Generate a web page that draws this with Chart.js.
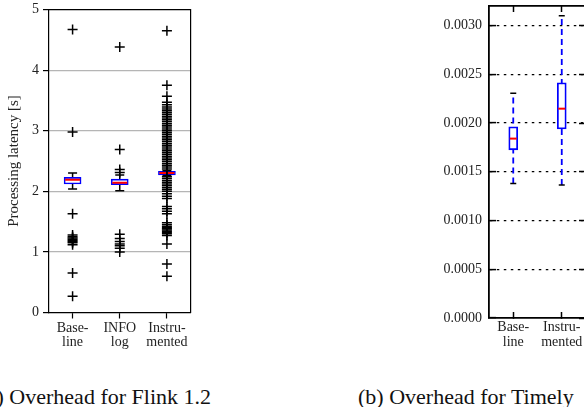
<!DOCTYPE html>
<html>
<head>
<meta charset="utf-8">
<script src="https://cdn.jsdelivr.net/npm/chart.js@4.4.1/dist/chart.umd.min.js"></script>
<style>
    html, body { margin: 0; padding: 0; background: #fff; overflow: hidden; width: 584px; height: 407px; }
    #flinkWrap { position: absolute; left: 0; top: 0; width: 200px; height: 360px; }
    #timelyWrap { position: absolute; left: 380px; top: 0; width: 215px; height: 360px; }
    .caption { position: absolute; top: 385px; line-height: 24px; font-family: 'Liberation Serif', 'Times New Roman', serif; font-size: 22px; color: #111; white-space: nowrap; }
    #capA { right: 373px; }
    #capB { left: 358px; }
</style>
</head>
<body>
<div id="flinkWrap"><canvas id="flinkChart"></canvas></div>
<div id="timelyWrap"><canvas id="timelyChart"></canvas></div>
<div class="caption" id="capA">(a) Overhead for Flink 1.2</div>
<div class="caption" id="capB">(b) Overhead for Timely</div>
<script>
// (a) Flink 1.2 - processing latency in seconds
var flinkCategories = ['Baseline', 'INFO log', 'Instrumented'];
var flinkTickLabels = [['Base-', 'line'], ['INFO', 'log'], ['Instru-', 'mented']];
var flinkQ1 = [2.12, 2.11, 2.27];
var flinkMedian = [2.19, 2.14, 2.30];
var flinkQ3 = [2.23, 2.20, 2.33];
var flinkWhiskerLow = [2.04, 2.01, 2.26];
var flinkWhiskerHigh = [2.30, 2.27, 2.34];
var flinkOutliersBaseline = [4.67, 2.98, 1.63, 1.28, 1.25, 1.23, 1.21, 1.19, 1.17, 1.15, 1.12, 0.65, 0.27];
var flinkOutliersInfo = [4.38, 2.69, 2.36, 2.31, 1.29, 1.22, 1.17, 1.13, 1.10, 1.06, 1.00];
var flinkOutliersInstrumented = [4.65, 3.75, 3.57, 3.47, 3.43, 3.39, 3.36, 3.33, 3.30, 3.27, 3.24, 3.21,
    3.18, 3.15, 3.12, 3.09, 3.06, 3.03, 3.00, 2.97, 2.94, 2.91, 2.88, 2.85, 2.82, 2.79, 2.76, 2.73,
    2.70, 2.67, 2.64, 2.61, 2.58, 2.55, 2.52, 2.49, 2.46, 2.43, 2.40, 2.37, 2.24, 2.21, 2.18, 2.15,
    2.12, 2.09, 2.06, 2.03, 2.00, 1.96, 1.92, 1.88, 1.75, 1.71, 1.67, 1.63, 1.48, 1.45, 1.42, 1.40,
    1.38, 1.36, 1.34, 1.32, 1.30, 1.27, 1.13, 0.80, 0.60];

// (b) Timely - processing latency in seconds
var timelyCategories = ['Baseline', 'Instrumented'];
var timelyTickLabels = [['Base-', 'line'], ['Instru-', 'mented']];
var timelyQ1 = [0.001725, 0.00194];
var timelyMedian = [0.00184, 0.002147];
var timelyQ3 = [0.00196, 0.002413];
var timelyWhiskerLow = [0.00138, 0.001364];
var timelyWhiskerHigh = [0.002305, 0.0031];

Chart.defaults.font.family = "'Liberation Serif', 'Times New Roman', serif";
Chart.defaults.color = '#222';

function buildBoxDatasets(categories, q1, median, q3, low, high, outliers, look) {
    var datasets = [];
    var i;

    datasets.push({
        type: 'bar',
        data: q1.map(function (v, k) { return [v, q3[k]]; }),
        backgroundColor: '#ffffff',
        borderColor: '#0000ff',
        borderWidth: look.boxLine,
        borderSkipped: false,
        barThickness: look.boxWidth,
        order: 3
    });

    for (i = 0; i < categories.length; i++) {
        datasets.push({
            type: 'line',
            data: [{ x: categories[i], y: low[i] }, { x: categories[i], y: high[i] }],
            borderColor: look.whiskerColor,
            borderWidth: look.whiskerLine,
            borderDash: look.whiskerDash,
            pointRadius: 0,
            fill: false,
            order: 4
        });
    }

    var caps = [];
    var medians = [];
    for (i = 0; i < categories.length; i++) {
        caps.push({ x: categories[i], y: low[i] });
        caps.push({ x: categories[i], y: high[i] });
        medians.push({ x: categories[i], y: median[i] });
    }
    datasets.push({
        type: 'scatter',
        data: caps,
        pointStyle: 'line',
        pointRadius: look.capRadius,
        pointBorderColor: '#000000',
        pointBorderWidth: look.capLine,
        order: 2
    });
    datasets.push({
        type: 'scatter',
        data: medians,
        pointStyle: 'line',
        pointRadius: look.boxWidth / 2 - 1,
        pointBorderColor: '#ff0000',
        pointBorderWidth: 2,
        order: 2
    });

    if (outliers) {
        var fliers = [];
        for (i = 0; i < categories.length; i++) {
            outliers[i].forEach(function (v) { fliers.push({ x: categories[i], y: v }); });
        }
        datasets.push({
            type: 'scatter',
            data: fliers,
            pointStyle: 'cross',
            pointRadius: 5,
            pointBorderColor: '#000000',
            pointBorderWidth: 1.5,
            order: 1
        });
    }
    return datasets;
}

// pin an axis box to a fixed size and drop the label overflow padding
function fixedSize(prop, value) {
    return function (scale) {
        scale[prop] = value;
        scale.paddingTop = 0;
        scale.paddingBottom = 0;
        scale.paddingLeft = 0;
        scale.paddingRight = 0;
    };
}

new Chart(document.getElementById('flinkChart'), {
    type: 'bar',
    data: {
        labels: flinkCategories,
        datasets: buildBoxDatasets(flinkCategories, flinkQ1, flinkMedian, flinkQ3,
            flinkWhiskerLow, flinkWhiskerHigh,
            [flinkOutliersBaseline, flinkOutliersInfo, flinkOutliersInstrumented],
            { boxLine: 1.6, boxWidth: 17, whiskerColor: '#000000', whiskerLine: 1.5, whiskerDash: [], capRadius: 4.5, capLine: 1.5 })
    },
    options: {
        responsive: true,
        maintainAspectRatio: false,
        animation: false,
        events: [],
        layout: { padding: { top: 8, right: 5, bottom: 0, left: 0 } },
        plugins: { legend: { display: false }, tooltip: { enabled: false } },
        scales: {
            x: {
                type: 'category',
                position: 'bottom',
                offset: true,
                grid: { offset: false, drawOnChartArea: false, tickLength: 6, tickColor: '#000', tickWidth: 1.2 },
                border: { color: '#000', width: 1.2 },
                ticks: {
                    padding: 2, autoSkip: false, maxRotation: 0, color: '#222',
                    font: { size: 14, lineHeight: 1.05 },
                    callback: function (value, index) { return flinkTickLabels[index]; }
                },
                afterFit: fixedSize('height', 47.5)
            },
            x2: {
                type: 'category',
                position: 'top',
                offset: true,
                grid: { display: false },
                border: { color: '#000', width: 1.2 },
                ticks: { display: false },
                afterFit: fixedSize('height', 0)
            },
            y: {
                min: 0,
                max: 5,
                grid: {
                    color: function (ctx) {
                        var v = ctx.tick ? ctx.tick.value : 0;
                        return (v === 0 || v === 5) ? 'rgba(0,0,0,0)' : '#b5b5b5';
                    },
                    lineWidth: 1.2, tickLength: 6, tickColor: '#000', tickWidth: 1.2
                },
                border: { color: '#000', width: 1.2 },
                ticks: { stepSize: 1, padding: 4, color: '#222', font: { size: 14 } },
                title: { display: true, text: 'Processing latency [s]', color: '#222', font: { size: 15 }, padding: { top: 5, bottom: 0 } },
                afterFit: fixedSize('width', 49)
            },
            y2: {
                position: 'right',
                min: 0,
                max: 5,
                grid: { display: false },
                border: { color: '#000', width: 1.2 },
                ticks: { display: false },
                afterFit: fixedSize('width', 0)
            }
        }
    }
});

new Chart(document.getElementById('timelyChart'), {
    type: 'bar',
    data: {
        labels: timelyCategories,
        datasets: buildBoxDatasets(timelyCategories, timelyQ1, timelyMedian, timelyQ3,
            timelyWhiskerLow, timelyWhiskerHigh, null,
            { boxLine: 1.8, boxWidth: 9, whiskerColor: '#0000ff', whiskerLine: 1.8, whiskerDash: [6, 4], capRadius: 3, capLine: 1.6 })
    },
    options: {
        responsive: true,
        maintainAspectRatio: false,
        animation: false,
        events: [],
        layout: { padding: { top: 5, right: 9, bottom: 0, left: 0 } },
        plugins: { legend: { display: false }, tooltip: { enabled: false } },
        scales: {
            x: {
                type: 'category',
                position: 'bottom',
                offset: true,
                grid: { offset: false, drawOnChartArea: false, tickLength: -6, tickColor: '#000', tickWidth: 1.5 },
                border: { color: '#000', width: 1.8 },
                ticks: {
                    padding: 8, autoSkip: false, maxRotation: 0, color: '#222',
                    font: { size: 14, lineHeight: 1.05 },
                    callback: function (value, index) { return timelyTickLabels[index]; }
                },
                afterFit: fixedSize('height', 42)
            },
            x2: {
                type: 'category',
                position: 'top',
                offset: true,
                grid: { offset: false, drawOnChartArea: false, tickLength: -6, tickColor: '#000', tickWidth: 1.5 },
                border: { color: '#000', width: 1.8 },
                ticks: { display: false },
                afterFit: fixedSize('height', 0)
            },
            y: {
                min: 0,
                max: 0.0032,
                grid: {
                    color: function (ctx) {
                        var v = ctx.tick ? ctx.tick.value : 0;
                        return v === 0 ? 'rgba(0,0,0,0)' : '#000';
                    },
                    lineWidth: 1.2, tickLength: -7, tickColor: '#000', tickWidth: 1.5
                },
                border: { color: '#000', width: 1.8, dash: [2.5, 4.5] },
                ticks: {
                    stepSize: 0.0005, includeBounds: false, padding: 14, color: '#222', font: { size: 14 },
                    callback: function (value) { return value.toFixed(4); }
                },
                afterFit: fixedSize('width', 109)
            },
            y2: {
                position: 'right',
                min: 0,
                max: 0.0032,
                grid: { drawOnChartArea: false, tickLength: -7, tickColor: '#000', tickWidth: 1.5 },
                border: { color: '#000', width: 1.8 },
                ticks: { display: false, stepSize: 0.0005, includeBounds: false },
                afterFit: fixedSize('width', 0)
            }
        }
    }
});
</script>
</body>
</html>
